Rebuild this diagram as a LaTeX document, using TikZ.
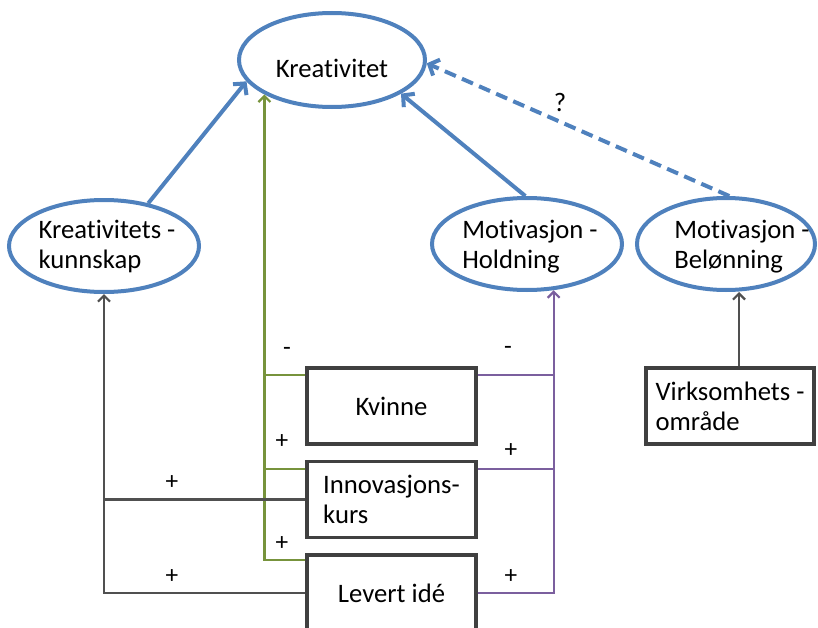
\documentclass[tikz,border=0pt]{standalone}
\usepackage{fontspec}
\setmainfont{Carlito}[Ligatures={NoCommon,NoRare}]
\usetikzlibrary{shapes.geometric,arrows.meta,calc}
\definecolor{ovalblue}{HTML}{4F81BD}
\definecolor{linkgreen}{HTML}{77933C}
\definecolor{linkpurple}{HTML}{7B5F9E}
\definecolor{linkgray}{HTML}{505050}
\definecolor{boxgray}{HTML}{404040}

\begin{document}
\begin{tikzpicture}[x=0.75pt,y=-0.75pt,
  every node/.style={font=\fontsize{20}{22.5}\selectfont, text=black, inner sep=0pt},
  oval/.style={ellipse, draw=ovalblue, line width=3pt, minimum width=#1, minimum height=69pt},
  factor/.style={rectangle, draw=boxgray, line width=2.5pt, fill=white,
                 minimum width=126.75pt, minimum height=57pt},
  bluelink/.style={draw=ovalblue, line width=3pt, -{Straight Barb[length=6pt,width=13pt]}},
  thinlink/.style={line width=1.7pt, -{Straight Barb[length=4.5pt,width=9pt]}},
  stub/.style={line width=1.7pt},
  sign/.style={font=\fontsize{19}{20}\selectfont}
]
\useasboundingbox (0,0) rectangle (818,628);
\clip (0,0) rectangle (818,628);

% constructs (ovals)
\node[oval=139.5pt, minimum height=70.5pt] (kre) at (332,60) {};
\node (kreT) at ($(kre.center)+(0,8)$) {Kreativitet};
\node[oval=142.5pt] (kk) at (104,246) {};
\node[align=left] (kkT) at ($(kk.center)+(3,0)$) {Kreativitets -\\kunnskap};
\node[oval=142.5pt] (mh) at (527,244) {};
\node[align=left] (mhT) at ($(mh.center)+(3,3)$) {Motivasjon -\\Holdning};
\node[oval=133.5pt] (mb) at (726,244) {};
\node[align=left] (mbT) at ($(mb.center)+(16,3)$) {Motivasjon -\\Belønning};

% explanatory factors (boxes)
\node[factor] (kv) at (391.5,406) {Kvinne\hspace{16pt}};
\node[factor, align=left] (inn) at (391.5,499.5) {Innovasjons-\\kurs\hspace{3pt}};
\node[factor] (lev) at (391.5,593) {Levert idé};
\node[factor, minimum width=126pt, align=left] (virk) at (730,406) {Virksomhets -\\område};

% effects on Kreativitet
\draw[bluelink] (kk.44) -- (kre.194);
\draw[bluelink] (mh.92) -- (kre.-26);
\draw[bluelink, dash pattern=on 9pt off 5pt] (mb.86) -- (kre.-2);
\node (q) at (560,102) {?};

% green: direct effects on Kreativitet
\draw[thinlink, linkgreen] ($(lev.north west)+(0,7)$) -| (kre.207.3);
\coordinate (gk) at ($(kv.north west)+(0,9)$);
\coordinate (gi) at ($(inn.north west)+(0,9)$);
\draw[stub, linkgreen] (gk) -- (gk -| kre.207.3);
\draw[stub, linkgreen] (gi) -- (gi -| kre.207.3);

% gray: effects on Kreativitets-kunnskap
\draw[thinlink, linkgray] (lev.west) -| (kk.south);
\draw[stub, linkgray] (inn.west) -- (inn.west -| kk.south);

% purple: effects on Motivasjon - Holdning
\draw[thinlink, linkpurple] (lev.east) -| (mh.-60.6);
\coordinate (pk) at ($(kv.north east)+(0,9)$);
\coordinate (pi) at ($(inn.north east)+(0,9)$);
\draw[stub, linkpurple] (pk) -- (pk -| mh.-60.6);
\draw[stub, linkpurple] (pi) -- (pi -| mh.-60.6);

% Virksomhetsomraade -> Motivasjon - Beloenning
\coordinate (vtop) at ($(virk.north)+(9,0)$);
\draw[thinlink, linkgray] (vtop) -- (vtop |- mb.south);

% signs of the effects
\node[sign] (sg1) at (287,351) {-};
\node[sign] (sg2) at (282,442) {+};
\node[sign] (sg3) at (282,544) {+};
\node[sign] (sk1) at (172,483) {+};
\node[sign] (sk2) at (172,577) {+};
\node[sign] (sp1) at (508,350) {-};
\node[sign] (sp2) at (511,451) {+};
\node[sign] (sp3) at (511,577) {+};
\end{tikzpicture}
\end{document}
